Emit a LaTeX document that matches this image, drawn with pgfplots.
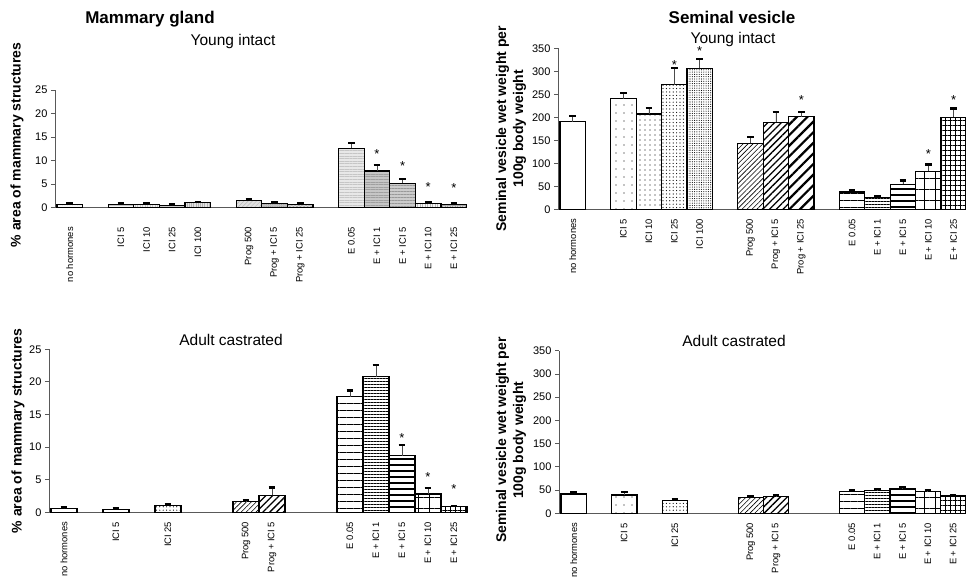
\documentclass[border=0pt]{standalone}
\usepackage{fontspec}
\setmainfont{Liberation Sans}
\usepackage{pgfplots}
\pgfplotsset{compat=1.18}
\usetikzlibrary{patterns,patterns.meta}

\pgfplotsset{
 panel/.style={scale only axis, axis lines=left, axis line style={-, gray!70!black, line width=0.8pt}, ymin=0, clip=false,
   ytick pos=left, tick align=outside, major tick length=4pt, ytick style={gray!70!black, line width=0.8pt},
   xtick style={draw=none}, xticklabel style={yshift=-2pt, rotate=90, anchor=east, font=\fontsize{9.4}{10}\selectfont},
   yticklabel style={font=\fontsize{11}{12}\selectfont}, /pgf/number format/assume math mode=true,
   ylabel style={font=\bfseries\fontsize{14}{17}\selectfont, align=center, anchor=center}},
 b/.style={ybar, bar width=1, bar shift=0pt, draw=black, line width=1.2pt,
   error bars/y dir=plus, error bars/y explicit, error bars/error mark=|,
   error bars/error bar style={gray!60!black, line width=0.8pt, fill=none},
   error bars/error mark options={black, line width=2.4pt, mark size=3.3pt}},
 st/.style={draw=none, forget plot, nodes near coords={*},
   every node near coord/.append style={anchor=center, font=\fontsize{13}{13}\selectfont, inner sep=0pt, yshift=-3pt}},
 % seminal / adult patterns
 pW/.style={fill=white},
 pD1/.style={fill=white, postaction={pattern={Dots[radius=0.7pt,distance=8pt]}}},
 pD2/.style={fill=white, postaction={pattern={Dots[radius=0.6pt,distance=5pt]}}},
 pD3/.style={fill=white, postaction={pattern={Dots[radius=0.6pt,distance=3.4pt]}}},
 pD4/.style={fill=white, postaction={pattern={Dots[radius=0.55pt,distance=2.3pt]}}},
 pN1/.style={fill=white, postaction={pattern={Lines[angle=45,distance=3.5pt,line width=0.6pt]}}},
 pN2/.style={fill=white, postaction={pattern={Lines[angle=45,distance=4.8pt,line width=1.3pt]}}},
 pN3/.style={fill=white, postaction={pattern={Lines[angle=45,distance=7.5pt,line width=2.2pt]}}},
 pH1/.style={fill=white, postaction={pattern={Lines[angle=0,distance=7pt,line width=0.8pt]}}},
 pH2/.style={fill=white, postaction={pattern={Lines[angle=0,distance=3pt,line width=0.8pt]}}},
 pH3/.style={fill=white, postaction={pattern={Lines[angle=0,distance=6pt,line width=2pt]}}},
 pG1/.style={fill=white, postaction={pattern={Hatch[distance=11pt,line width=0.8pt]}}},
 pG2/.style={fill=white, postaction={pattern={Hatch[distance=5pt,line width=0.8pt]}}},
 % mammary young (grey) patterns
 q0/.style={fill=gray!6, postaction={pattern={Dots[radius=0.4pt,distance=2.5pt]}, pattern color=gray!50}},
 q1/.style={fill=gray!8, postaction={pattern={Lines[angle=0,distance=2pt,line width=0.4pt]}, pattern color=gray!45}},
 q2/.style={fill=gray!10, postaction={pattern={Lines[angle=90,distance=2.5pt,line width=0.4pt]}, pattern color=gray!45}},
 q3/.style={fill=gray!40, postaction={pattern={Dots[radius=0.5pt,distance=2.5pt]}, pattern color=gray!70}},
 q4/.style={fill=gray!22, postaction={pattern={Lines[angle=90,distance=2.2pt,line width=0.5pt]}, pattern color=gray!60}},
 q5/.style={fill=gray!25, postaction={pattern={Lines[angle=45,distance=3pt,line width=0.4pt]}, pattern color=gray!55}},
 q6/.style={fill=gray!50, postaction={pattern={Dots[radius=0.5pt,distance=2.2pt]}, pattern color=gray!80}},
 q7/.style={fill=gray!25, postaction={pattern={Hatch[angle=45,distance=2.5pt,line width=0.5pt]}, pattern color=gray!65}},
 q8/.style={fill=gray!18, postaction={pattern={Lines[angle=0,distance=2.6pt,line width=0.7pt]}, pattern color=gray!45}},
 q9/.style={fill=gray!45, postaction={pattern={Lines[angle=0,distance=2.6pt,line width=0.7pt]}, pattern color=gray!75}},
 q10/.style={fill=gray!40, postaction={pattern={Lines[angle=0,distance=3pt,line width=1pt]}, pattern color=gray!80}},
 q11/.style={fill=gray!8, postaction={pattern={Lines[angle=90,distance=2.5pt,line width=0.5pt]}, pattern color=gray!55}},
 q12/.style={fill=gray!30, postaction={pattern={Hatch[distance=2.5pt,line width=0.5pt]}, pattern color=gray!70}},
}

\begin{document}
\begin{tikzpicture}[x=1pt,y=1pt]
\useasboundingbox (0,0) rectangle (966,585);

% ---------------- Mammary gland, young intact ----------------
\begin{axis}[panel, at={(55pt,377.3pt)}, anchor=south west, width=411.6pt, height=117.7pt,
  xmin=-0.578, xmax=15.5, ymax=25, ytick={0,5,...,25},
  xtick={0,2,3,4,5,7,8,9,11,12,13,14,15},
  xticklabels={no hormones,ICI 5,ICI 10,ICI 25,ICI 100,Prog 500,Prog + ICI 5,Prog + ICI 25,E 0.05,E + ICI 1,E + ICI 5,E + ICI 10,E + ICI 25},
  xticklabel shift=10pt,
  ylabel={\% area of mammary structures},
  ylabel style={at={(rel axis cs:-0.0923,0.533)}}]
\addplot[b, q0] coordinates {(0,0.7) +- (0,0.15)};
\addplot[b, q1] coordinates {(2,0.65) +- (0,0.2)};
\addplot[b, q2] coordinates {(3,0.65) +- (0,0.2)};
\addplot[b, q3] coordinates {(4,0.5) +- (0,0.3)};
\addplot[b, q4] coordinates {(5,1.1) +- (0,0.15)};
\addplot[b, q5] coordinates {(7,1.6) +- (0,0.3)};
\addplot[b, q6] coordinates {(8,0.9) +- (0,0.25)};
\addplot[b, q7] coordinates {(9,0.7) +- (0,0.15)};
\addplot[b, q8] coordinates {(11,12.6) +- (0,1.2)};
\addplot[b, q9] coordinates {(12,7.8) +- (0,1.25)};
\addplot[b, q10] coordinates {(13,5.2) +- (0,0.9)};
\addplot[b, q11] coordinates {(14,0.9) +- (0,0.3)};
\addplot[b, q12] coordinates {(15,0.7) +- (0,0.3)};
\addplot[st] coordinates {(12,12.1) (13,9.4) (14,4.96) (15,4.8)};
\end{axis}

% ---------------- Seminal vesicle, young intact ----------------
\begin{axis}[panel, at={(558pt,375.7pt)}, anchor=south west, width=408.4pt, height=161pt,
  xmin=-0.579, xmax=15.5, ymax=350, ytick={0,50,...,350},
  xtick={0,2,3,4,5,7,8,9,11,12,13,14,15},
  xticklabels={no hormones,ICI 5,ICI 10,ICI 25,ICI 100,Prog 500,Prog + ICI 5,Prog + ICI 25,E 0.05,E + ICI 1,E + ICI 5,E + ICI 10,E + ICI 25},
  ylabel={Seminal vesicle wet weight per\\100g body weight},
  ylabel style={at={(rel axis cs:-0.115,0.5)}}]
\addplot[b, pW] coordinates {(0,190.6) +- (0,12.5)};
\addplot[b, pD1] coordinates {(2,240) +- (0,13)};
\addplot[b, pD2] coordinates {(3,207) +- (0,13)};
\addplot[b, pD3] coordinates {(4,271) +- (0,36)};
\addplot[b, pD4] coordinates {(5,306.5) +- (0,20.5)};
\addplot[b, pN1] coordinates {(7,143.5) +- (0,13.5)};
\addplot[b, pN2] coordinates {(8,189) +- (0,23)};
\addplot[b, pN3] coordinates {(9,201) +- (0,10)};
\addplot[b, pH1] coordinates {(11,37.7) +- (0,3.5)};
\addplot[b, pH2] coordinates {(12,25.4) +- (0,2)};
\addplot[b, pH3] coordinates {(13,54) +- (0,9)};
\addplot[b, pG1] coordinates {(14,82.6) +- (0,14.5)};
\addplot[b, pG2] coordinates {(15,200) +- (0,19)};
\addplot[st] coordinates {(4,321) (5,350) (9,245) (14,127.5) (15,243.5)};
\end{axis}

% ---------------- Mammary gland, adult castrated ----------------
\begin{axis}[panel, at={(49pt,72.7pt)}, anchor=south west, width=418pt, height=163pt,
  xmin=-0.577, xmax=15.5, ymax=25, ytick={0,5,...,25},
  xtick={0,2,4,7,8,11,12,13,14,15},
  xticklabels={no hormones,ICI 5,ICI 25,Prog 500,Prog + ICI 5,E 0.05,E + ICI 1,E + ICI 5,E + ICI 10,E + ICI 25},
  ylabel={\% area of mammary structures},
  ylabel style={at={(rel axis cs:-0.074,0.5)}}]
\addplot[b, pW] coordinates {(0,0.61) +- (0,0.16)};
\addplot[b, pD1] coordinates {(2,0.41) +- (0,0.15)};
\addplot[b, pD3] coordinates {(4,1.02) +- (0,0.16)};
\addplot[b, pN1] coordinates {(7,1.64) +- (0,0.26)};
\addplot[b, pN2] coordinates {(8,2.6) +- (0,1.2)};
\addplot[b, pH1] coordinates {(11,17.7) +- (0,1.0)};
\addplot[b, pH2] coordinates {(12,20.8) +- (0,1.8)};
\addplot[b, pH3] coordinates {(13,8.7) +- (0,1.6)};
\addplot[b, pG1] coordinates {(14,2.8) +- (0,0.9)};
\addplot[b, pG2] coordinates {(15,0.87) +- (0,0.12)};
\addplot[st] coordinates {(13,11.9) (14,5.9) (15,4.1)};
\end{axis}

% ---------------- Seminal vesicle, adult castrated ----------------
\begin{axis}[panel, at={(559pt,71.7pt)}, anchor=south west, width=406.8pt, height=162.6pt,
  xmin=-0.579, xmax=15.5, ymax=350, ytick={0,50,...,350},
  xtick={0,2,4,7,8,11,12,13,14,15},
  xticklabels={no hormones,ICI 5,ICI 25,Prog 500,Prog + ICI 5,E 0.05,E + ICI 1,E + ICI 5,E + ICI 10,E + ICI 25},
  ylabel={Seminal vesicle wet weight per\\100g body weight},
  ylabel style={at={(rel axis cs:-0.118,0.45)}}]
\addplot[b, pW] coordinates {(0,41.6) +- (0,2.9)};
\addplot[b, pD1] coordinates {(2,39.5) +- (0,6.5)};
\addplot[b, pD3] coordinates {(4,28) +- (0,3)};
\addplot[b, pN1] coordinates {(7,34) +- (0,2)};
\addplot[b, pN2] coordinates {(8,36) +- (0,3.5)};
\addplot[b, pH1] coordinates {(11,47.3) +- (0,2.7)};
\addplot[b, pH2] coordinates {(12,48.8) +- (0,3.2)};
\addplot[b, pH3] coordinates {(13,53) +- (0,4)};
\addplot[b, pG1] coordinates {(14,46.6) +- (0,3.4)};
\addplot[b, pG2] coordinates {(15,37.3) +- (0,2.2)};
\end{axis}

% ---------------- titles ----------------
\node[anchor=base, font=\bfseries\fontsize{17}{20}\selectfont] at (150,561) {Mammary gland};
\node[anchor=base, font=\fontsize{15.5}{18}\selectfont] at (233,539.3) {Young intact};
\node[anchor=base, font=\bfseries\fontsize{17}{20}\selectfont] at (732,561) {Seminal vesicle};
\node[anchor=base, font=\fontsize{15.5}{18}\selectfont] at (733,541.7) {Young intact};
\node[anchor=base, font=\fontsize{15.5}{18}\selectfont] at (231,239) {Adult castrated};
\node[anchor=base, font=\fontsize{15.5}{18}\selectfont] at (734,238.3) {Adult castrated};
\end{tikzpicture}
\end{document}
